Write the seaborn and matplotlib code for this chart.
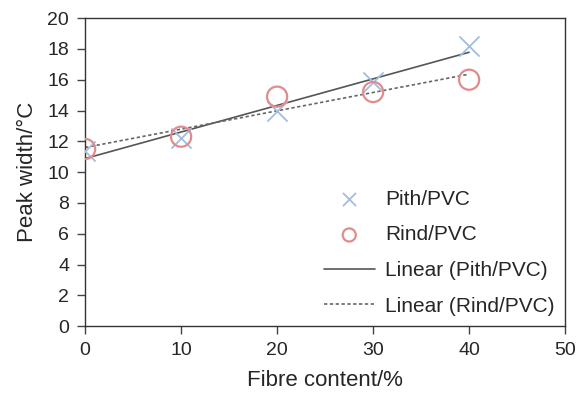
import numpy as np
import pandas as pd
import matplotlib
matplotlib.use("Agg")
import matplotlib.pyplot as plt
import seaborn as sns

fibre = [0, 10, 20, 30, 40]
pith = [11.4, 12.2, 14.0, 15.85, 18.2]
rind = [11.5, 12.3, 14.9, 15.2, 16.0]

sns.set_style("white")
plt.rcParams['font.family'] = ['Liberation Sans', 'DejaVu Sans']

df = pd.DataFrame({"fibre": fibre, "pith": pith, "rind": rind})

fig = plt.figure(figsize=(5.79, 3.93), dpi=100)
ax = fig.add_axes([0.147, 0.170, 0.829, 0.784])

sns.scatterplot(data=df, x="fibre", y="pith", ax=ax, marker="x", s=210,
                color="#a3bde0", linewidth=1.3, label="Pith/PVC", zorder=3)
sns.scatterplot(data=df, x="fibre", y="rind", ax=ax, marker="o", s=210,
                facecolor="none", edgecolor="#e08c8c", linewidth=1.6,
                label="Rind/PVC", zorder=3)
sns.regplot(data=df, x="fibre", y="pith", ax=ax, scatter=False, ci=None,
            line_kws=dict(color="#555555", lw=1.2, ls="-"), label="Linear (Pith/PVC)")
sns.regplot(data=df, x="fibre", y="rind", ax=ax, scatter=False, ci=None,
            line_kws=dict(color="#666666", lw=1.2, ls=(0, (2, 1.5))), label="Linear (Rind/PVC)")

ax.set_xlim(0, 50)
ax.set_ylim(0, 20)
ax.set_xticks(range(0, 51, 10))
ax.set_yticks(range(0, 21, 2))
ax.set_xlabel("Fibre content/%", fontsize=16, labelpad=8)
ax.set_ylabel("Peak width/°C", fontsize=16, labelpad=7)
ax.tick_params(axis="both", labelsize=14, direction="out", length=6,
               width=1, color="#444444", bottom=True, left=True, pad=5.5)
for s in ax.spines.values():
    s.set_visible(True)
    s.set_color("#333333")
    s.set_linewidth(1)

leg = ax.legend(loc="lower right", frameon=False, fontsize=15,
                markerscale=0.65, handlelength=2.45, labelspacing=0.8,
                borderaxespad=0.1, handletextpad=0.5)
fig.savefig("out.png", dpi=100)
